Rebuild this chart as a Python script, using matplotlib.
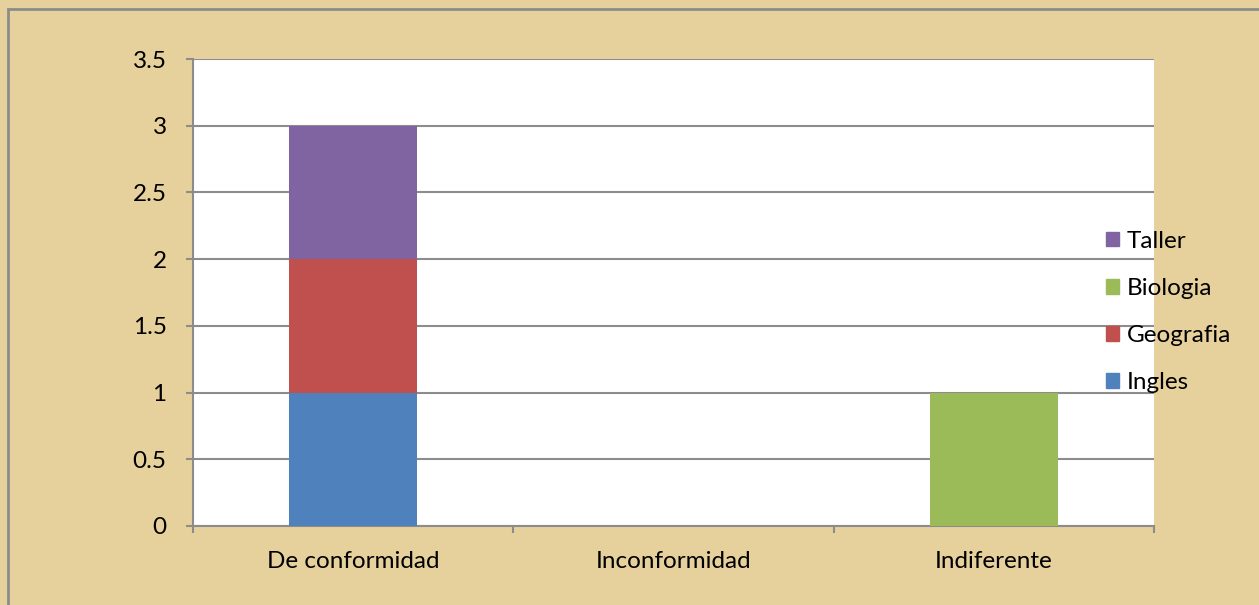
import matplotlib
matplotlib.use('Agg')
import matplotlib.pyplot as plt
import numpy as np
from matplotlib.patches import Rectangle, Patch

categories = ['De conformidad', 'Inconformidad', 'Indiferente']
series_names = ['Ingles', 'Geografia', 'Biologia', 'Taller']
ingles = [1, 0, 0]
geografia = [1, 0, 0]
biologia = [0, 0, 1]
taller = [1, 0, 0]
colors = ['#4F81BD', '#C0504D', '#9BBB59', '#8064A2']
yticks = [0, 0.5, 1, 1.5, 2, 2.5, 3, 3.5]

plt.rcParams['font.family'] = ['Lato', 'DejaVu Sans']

fig = plt.figure(figsize=(12.59, 6.05), dpi=100)
fig.patch.set_facecolor('#e6d09c')
# outer chart border
fig.patches.append(Rectangle((8 / 1259, -0.05), 1.2, 0.05 + 1 - 9 / 605,
                             transform=fig.transFigure, fill=False,
                             edgecolor='#8c8c8c', linewidth=2))

ax = fig.add_axes([193 / 1259, 1 - 526 / 605, (1154 - 193) / 1259, (526 - 59) / 605])
ax.set_facecolor('white')

x = np.arange(len(categories))
bottom = np.zeros(len(categories))
for name, vals, c in zip(series_names, [ingles, geografia, biologia, taller], colors):
    ax.bar(x, vals, width=0.4, bottom=bottom, color=c, label=name, zorder=3)
    bottom += np.array(vals)

ax.set_xlim(-0.5, 2.5)
ax.set_ylim(0, 3.5)
ax.set_yticks(yticks)
ax.set_yticklabels(['0', '0.5', '1', '1.5', '2', '2.5', '3', '3.5'])
ax.yaxis.grid(True, color='#8c8c8c', linewidth=1.5, zorder=1)
ax.set_axisbelow(True)

ax.set_xticks(x)
ax.set_xticklabels(categories)
ax.set_xticks([-0.5, 0.5, 1.5, 2.5], minor=True)
ax.tick_params(axis='x', which='major', length=0, pad=18, labelsize=17.5)
ax.tick_params(axis='x', which='minor', length=5, width=1.5, color='#8c8c8c')
ax.tick_params(axis='y', length=5, width=1.5, color='#8c8c8c', pad=14, labelsize=17.5)

for s in ['top', 'right']:
    ax.spines[s].set_visible(False)
for s in ['left', 'bottom']:
    ax.spines[s].set_color('#8c8c8c')
    ax.spines[s].set_linewidth(1.5)

handles = [Patch(color=c, label=n) for n, c in zip(series_names, colors)][::-1]
fig.legend(handles=handles, loc='center left', bbox_to_anchor=(1084 / 1259, 1 - 312 / 605),
           frameon=False, fontsize=17.5, handlelength=0.55, handleheight=0.55,
           handletextpad=0.3, labelspacing=1.08)

fig.savefig('out.png', dpi=100, facecolor=fig.get_facecolor())
